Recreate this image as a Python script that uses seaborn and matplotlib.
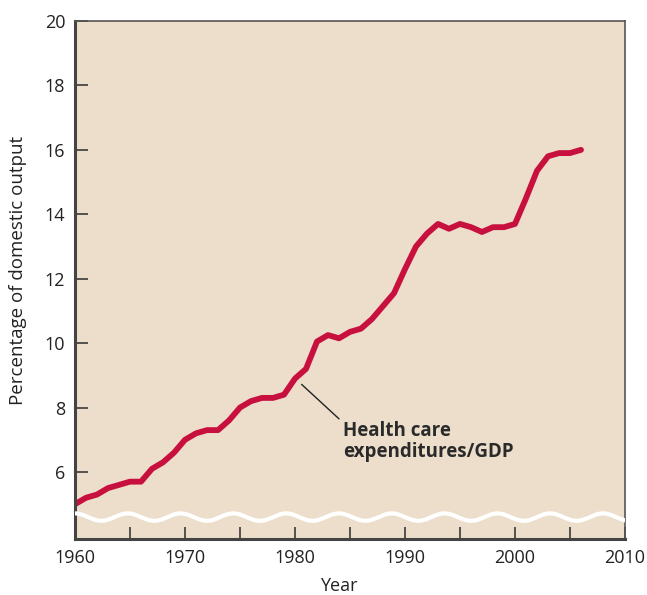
import numpy as np
import pandas as pd
import seaborn as sns
import matplotlib.pyplot as plt

# dados: gastos com saúde / PIB
years = list(range(1960, 2007))
share = [5.0, 5.2, 5.3, 5.5, 5.6, 5.7, 5.7, 6.1, 6.3, 6.6, 7.0,
         7.2, 7.3, 7.3, 7.6, 8.0, 8.2, 8.3, 8.3, 8.4, 8.9,
         9.2, 10.05, 10.25, 10.15, 10.35, 10.45, 10.75, 11.15, 11.55, 12.3,
         13.0, 13.4, 13.7, 13.55, 13.7, 13.6, 13.45, 13.6, 13.6, 13.7,
         14.5, 15.35, 15.8, 15.9, 15.9, 16.0]

x_ticks = [1960, 1970, 1980, 1990, 2000, 2010]
y_ticks = [6, 8, 10, 12, 14, 16, 18, 20]

df = pd.DataFrame({"year": years, "share": share})

sns.set_style("ticks")
plt.rcParams["font.family"] = ["Open Sans", "DejaVu Sans"]

fig = plt.figure(figsize=(6.47, 5.95), dpi=100)
ax = fig.add_axes([75 / 647, 56 / 595, 550 / 647, 518 / 595])
ax.set_facecolor("#ecdecb")

sns.lineplot(data=df, x="year", y="share", ax=ax, color="#c8103e",
             linewidth=4.2, solid_capstyle="round", solid_joinstyle="round")

# linha ondulada branca indicando a quebra do eixo
wx = np.linspace(1960, 2010, 600)
ax.plot(wx, 4.6 + 0.115 * np.cos(2 * np.pi * (wx - 1960) / 4.8),
        color="white", linewidth=3, zorder=3)

ax.set_xlim(1960, 2010)
ax.set_ylim(3.92, 20)
ax.set_xticks(x_ticks)
ax.set_xticks(range(1965, 2010, 10), minor=True)
ax.set_yticks(y_ticks)
ax.tick_params(axis="both", which="both", direction="in", length=9,
               width=1.1, color="#2b2b2b", labelsize=13, labelcolor="#222222")
ax.tick_params(axis="x", pad=7)
ax.tick_params(axis="y", pad=7)

for side in ["left", "bottom"]:
    ax.spines[side].set_linewidth(2.2)
    ax.spines[side].set_color("#444444")
for side in ["top", "right"]:
    ax.spines[side].set_linewidth(1.2)
    ax.spines[side].set_color("#555555")

ax.set_xlabel("Year", fontsize=13, color="#222222")
ax.xaxis.set_label_coords((339 - 75) / 550, -0.073)
ax.set_ylabel("Percentage of domestic output", fontsize=13.5, color="#222222")
ax.yaxis.set_label_coords(-0.087, (539 - 270) / 518)

ax.plot([1980.6, 1984.0], [8.72, 7.65], color="#222222", linewidth=1.0)
ax.text(1984.4, 6.95, "Health care\nexpenditures/GDP", fontsize=13.5,
        fontweight="bold", color="#2a2a2a", va="center", ha="left",
        linespacing=1.1)

fig.savefig("out.png", dpi=100)
